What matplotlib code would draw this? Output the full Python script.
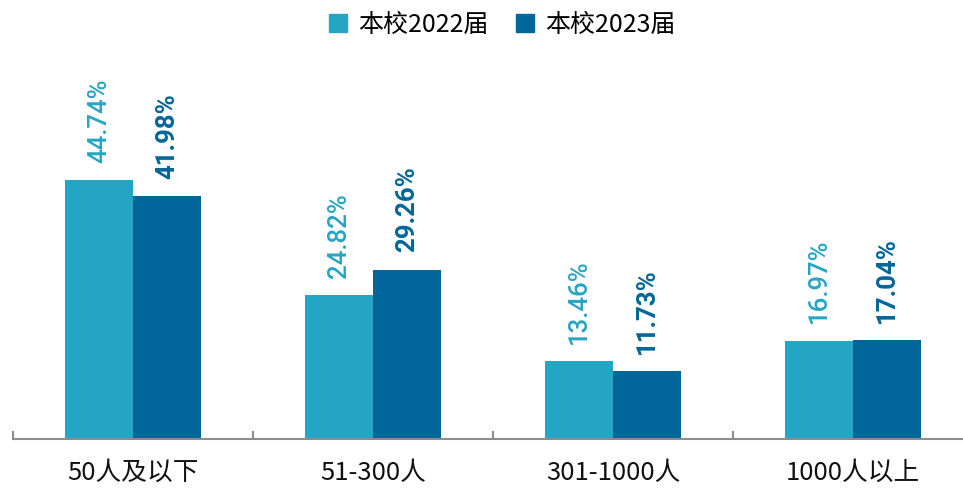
import matplotlib
matplotlib.use("Agg")
import matplotlib.pyplot as plt
from matplotlib.lines import Line2D
import numpy as np

plt.rcParams['font.family'] = ['Noto Sans CJK SC', 'DejaVu Sans']

categories = ["50人及以下", "51-300人", "301-1000人", "1000人以上"]
series_names = ["本校2022届", "本校2023届"]
values_2022 = [44.74, 24.82, 13.46, 16.97]
values_2023 = [41.98, 29.26, 11.73, 17.04]
colors = ["#25A5C4", "#016699"]

fig = plt.figure(figsize=(9.63, 4.88), dpi=100)
ax = fig.add_axes([13/963, 49/488, 950/963, 439/488])

x = np.arange(len(categories))
w = 0.283
b1 = ax.bar(x - w/2, values_2022, w, color=colors[0])
b2 = ax.bar(x + w/2, values_2023, w, color=colors[1])

for bars, vals, col, wt in [(b1, values_2022, colors[0], 'medium'), (b2, values_2023, colors[1], 'bold')]:
    for r, v in zip(bars, vals):
        ax.annotate(f"{v:.2f}%", (r.get_x() + r.get_width()/2, v),
                    xytext=(0, 12.5), textcoords='offset points',
                    rotation=90, ha='center', va='bottom',
                    fontsize=18.5, color=col, fontweight=wt, family='Roboto')

ax.set_xlim(-0.5, 3.458)
ax.set_ylim(0, 439/5.79)
for s in ['top', 'right', 'left']:
    ax.spines[s].set_visible(False)
ax.spines['bottom'].set_color('#8c8c8c')
ax.spines['bottom'].set_linewidth(1.5)
ax.set_yticks([])
ax.set_xticks(x)
ax.set_xticklabels(categories, fontsize=18.5)
ax.tick_params(axis='x', which='major', length=0, pad=15, colors='#111111')
ax.set_xticks([-0.5, 0.5, 1.5, 2.5], minor=True)
ax.tick_params(axis='x', which='minor', direction='in', length=6, width=1.5, color='#8c8c8c')

handles = [Line2D([], [], marker='s', linestyle='none', markersize=13, color=c) for c in colors]
fig.legend(handles, series_names, loc='center', bbox_to_anchor=(0.52, 1 - 25/488),
           ncol=2, frameon=False, fontsize=18, handletextpad=0.3, columnspacing=0.95,
           handlelength=1.0)

fig.savefig("out.png", dpi=100)
